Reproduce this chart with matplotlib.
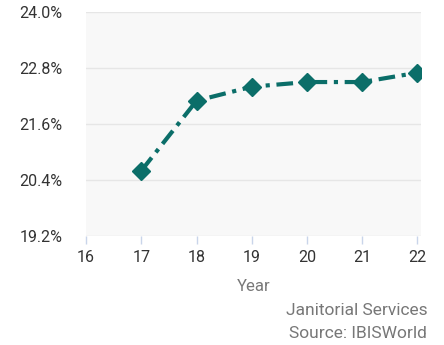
import matplotlib.pyplot as plt
from matplotlib.ticker import FuncFormatter

plt.rcParams['font.family'] = ['Roboto', 'DejaVu Sans']

# Janitorial services share by year
years = [17, 18, 19, 20, 21, 22]
share = [20.6, 22.1, 22.4, 22.5, 22.5, 22.7]
y_ticks = [19.2, 20.4, 21.6, 22.8, 24.0]
x_ticks = [16, 17, 18, 19, 20, 21, 22]

teal = '#0b6e69'

fig = plt.figure(figsize=(4.44, 3.45), dpi=100)
ax = fig.add_axes([0.194, 0.316, 0.755, 0.649])
ax.set_facecolor('#f8f8f8')

ax.plot(years, share, color=teal, lw=3, ls=(0, (4, 1.6, 1, 1.6)),
        marker='D', ms=9, mfc=teal, mec=teal, zorder=3)

ax.set_xlim(16, 22.07)
ax.set_ylim(19.2, 24.0)
ax.set_xticks(x_ticks)
ax.set_yticks(y_ticks)
ax.yaxis.set_major_formatter(FuncFormatter(lambda v, p: f'{v:.1f}%'))
ax.grid(axis='y', color='#e6e6e6', lw=1)
ax.set_axisbelow(True)

for s in ax.spines.values():
    s.set_visible(False)

ax.tick_params(axis='y', length=0, pad=17, labelsize=11.5, labelcolor='#333333')
ax.tick_params(axis='x', length=6, width=1, color='#c9d5ea', pad=4,
               labelsize=11.5, labelcolor='#333333')

ax.set_xlabel('Year', fontsize=12, color='#777777', labelpad=10)

fig.text(0.962, 0.100, 'Janitorial Services', ha='right', va='center',
         fontsize=12.5, color='#777777')
fig.text(0.962, 0.034, 'Source: IBISWorld', ha='right', va='center',
         fontsize=12.5, color='#777777')

fig.savefig('out.png', dpi=100)
